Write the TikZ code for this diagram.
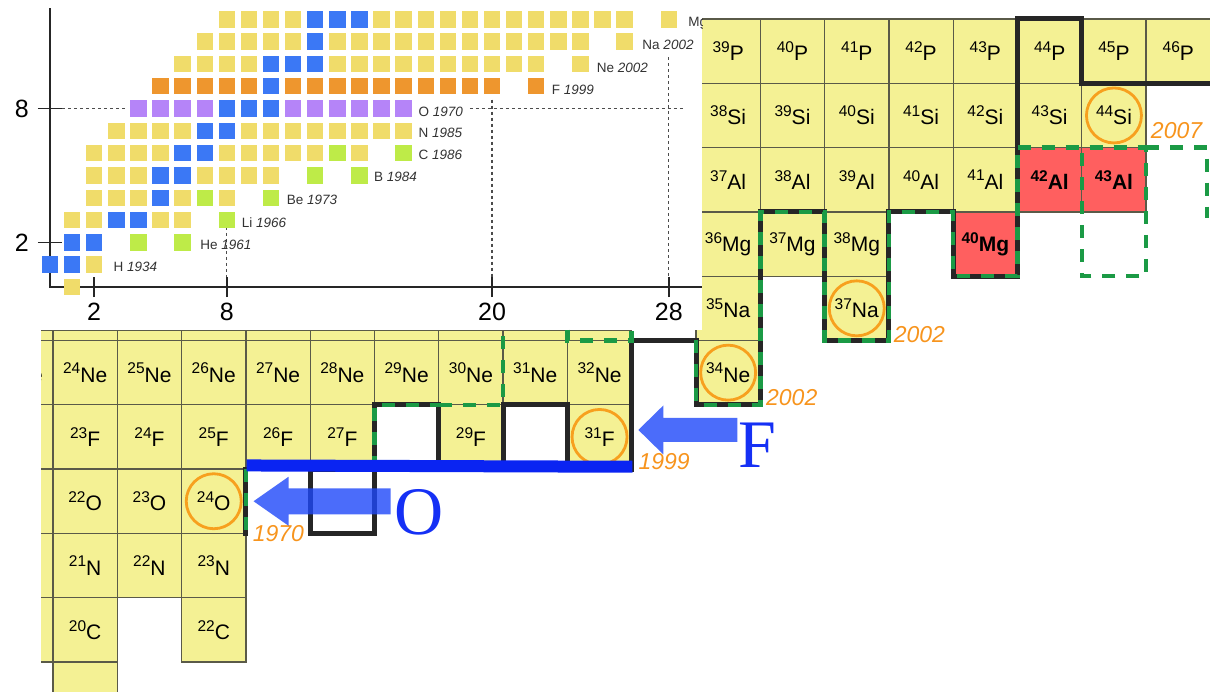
\documentclass[tikz,border=0pt]{standalone}
\usepackage{fontspec}
\setmainfont{Liberation Sans}
\newfontfamily\letterfont{Liberation Serif}
\usetikzlibrary{positioning}

\definecolor{cellyel}{HTML}{F4F194}
\definecolor{cellred}{HTML}{FF5F5F}
\definecolor{gridc}{HTML}{5A5A48}
\definecolor{dripgreen}{HTML}{1B9A45}
\definecolor{ringor}{HTML}{F7A01E}
\definecolor{yearor}{HTML}{F7941D}
\definecolor{sqyel}{HTML}{F0DC6A}
\definecolor{sqblu}{HTML}{3B78F5}
\definecolor{sqora}{HTML}{EE962E}
\definecolor{sqpur}{HTML}{B584F8}
\definecolor{sqgrn}{HTML}{BEEB48}
\definecolor{arrblu}{HTML}{1E47F9}
\definecolor{lineblu}{HTML}{0A24F2}
\definecolor{letblu}{HTML}{1530F5}

\newcommand{\iso}[2]{\raisebox{8.3pt}{\fontsize{15.5}{15.5}\selectfont #1}#2}

\begin{document}
\begin{tikzpicture}[x=1pt, y=-1pt]
	\tikzset{
		nucgrid/.style = {shift={(-847.2,1047.8)}, x=64.3pt, y=64.3pt},
		smallgrid/.style = {shift={(50,287)}, x=22.1pt, y=22.3pt},
		cell/.style = {rectangle, draw=gridc, line width=1.3pt, fill=cellyel, minimum size=64.3pt, inner sep=0pt, font=\fontsize{21}{21}\selectfont},
		redcell/.style = {cell, fill=cellred, font=\fontsize{21}{21}\selectfont\bfseries},
		ring/.style = {circle, draw=ringor, line width=2.8pt, minimum size=55pt, inner sep=0pt},
		year/.style = {anchor=west, text=yearor, inner sep=0pt, font=\fontsize{23}{23}\selectfont\itshape},
		drip/.style = {draw=black!85, solid, line width=5pt, line cap=rect},
		theo/.style = {draw=dripgreen, line width=4.5pt, dash pattern=on 13pt off 11pt},
		both/.style = {theo, preaction={drip}},
		sq/.style = {rectangle, minimum size=16.4pt, inner sep=0pt},
		tag/.style = {anchor=west, inner sep=0pt, text=black!80, font=\fontsize{13.5}{13.5}\selectfont},
		axis/.style = {black!85, line width=1.6pt},
		guide/.style = {black!70, line width=1.1pt, dash pattern=on 3pt off 3pt},
		ticklab/.style = {inner sep=0pt, font=\fontsize{25}{25}\selectfont},
		bigletter/.style = {inner sep=0pt, text=letblu, font=\letterfont\fontsize{68}{68}\selectfont}
	}
	\useasboundingbox (0,0) rectangle (1210,692);
	\clip (0,0) rectangle (1210,692);

	\begin{scope}[nucgrid]
		\foreach \z/\elem/\nlist in {15/P/{24,...,31}, 14/Si/{24,...,30}, 13/Al/{24,...,28}, 12/Mg/{24,25,26}, 11/Na/{24,26}, 10/Ne/{13,...,22,24}, 9/F/{13,...,18,20,22}, 8/O/{13,...,16}, 7/N/{13,...,16}, 6/C/{13,14,16}}
			\foreach \n in \nlist {
				\pgfmathtruncatemacro{\a}{\n+\z}
				\node[cell] (\elem\a) at (\n+.5,\z+.5) {\iso{\a}{\elem}};
			}
		\foreach \n in {13,...,22}
			\node[cell] (Na-\n) at (\n+.5,11.5) {};
		\node[redcell] (Al42) at (29.5,13.5) {\iso{42}{Al}};
		\node[redcell] (Al43) at (30.5,13.5) {\iso{43}{Al}};
		\node[redcell] (Mg40) at (28.5,12.5) {\iso{40}{Mg}};
		\node[cell] (B19) at (14.5,5.5) {};
	\end{scope}

	\fill[white] (0,330) rectangle (41,692);
	\draw[gridc, line width=1pt] (41,330.5) -- (631,330.5);

	\begin{scope}
		\clip (0,0) rectangle (702,330);
		\fill[white] (0,0) rectangle (702,330);
		\begin{scope}[smallgrid]
			\draw[guide] (.55,8) -- (3.5,8);
			\draw[guide] (19,8) -- (28.65,8);
			\draw[guide] (8,2.7) -- (8,0);
			\draw[guide] (20,8.4) -- (20,0);
			\draw[guide] (28,10.3) -- (28,0);
			\draw[axis] (0,12.5) -- (0,0) -- (29.5,0);
			\foreach \n in {2,8,20,28} {
				\draw[axis] (\n,-.45) -- (\n,.45);
				\node[ticklab, anchor=north] (xl\n) at (\n,-.72) {\n};
			}
			\foreach \z in {2,8} {
				\draw[axis] (-.55,\z) -- (.55,\z);
				\node[ticklab, anchor=east] (yl\z) at (-.95,\z) {\z};
			}
			\foreach \z/\c/\nlist in {0/sqyel/{1}, 1/sqblu/{0,1}, 1/sqyel/{2}, 2/sqblu/{1,2}, 2/sqgrn/{4,6}, 3/sqyel/{1,2,5,6}, 3/sqblu/{3,4}, 3/sqgrn/{8}, 4/sqyel/{2,3,4,6,8}, 4/sqblu/{5}, 4/sqgrn/{7,10}, 5/sqyel/{2,3,4,7,8,9,10}, 5/sqblu/{5,6}, 5/sqgrn/{12,14}, 6/sqyel/{2,3,4,5,8,9,10,11,12,14}, 6/sqblu/{6,7}, 6/sqgrn/{13,16}, 7/sqyel/{3,4,5,6}, 7/sqyel/{9,...,16}, 7/sqblu/{7,8}, 8/sqpur/{4,5,6,7}, 8/sqpur/{11,...,16}, 8/sqblu/{8,9,10}, 9/sqora/{5,...,9}, 9/sqora/{11,...,20,22}, 9/sqblu/{10}, 10/sqyel/{6,7,8,9}, 10/sqyel/{13,...,22,24}, 10/sqblu/{10,11,12}, 11/sqyel/{7,...,11}, 11/sqyel/{13,...,24,26}, 11/sqblu/{12}, 12/sqyel/{8,...,11}, 12/sqyel/{15,...,26,28}, 12/sqblu/{12,13,14}}
				\foreach \n in \nlist
					\node[sq, fill=\c] (s\z-\n) at (\n,\z) {};
			\node[tag] (tH) at (2.87,.91) {H \textit{1934}};
			\node[tag] (tHe) at (6.79,1.91) {He \textit{1961}};
			\node[tag] (tLi) at (8.67,2.88) {Li \textit{1966}};
			\node[tag] (tBe) at (10.71,3.93) {Be \textit{1973}};
			\node[tag] (tB) at (14.66,4.95) {B \textit{1984}};
			\node[tag] (tC) at (16.67,5.92) {C \textit{1986}};
			\node[tag] (tN) at (16.67,6.89) {N \textit{1985}};
			\node[tag] (tO) at (16.67,7.86) {O \textit{1970}};
			\node[tag] (tF) at (22.7,8.86) {F \textit{1999}};
			\node[tag] (tNe) at (24.74,9.83) {Ne \textit{2002}};
			\node[tag] (tNa) at (26.8,10.88) {Na \textit{2002}};
			\node[tag] (tMg) at (28.88,11.82) {Mg \textit{2002}};
		\end{scope}
	\end{scope}

	\begin{scope}[nucgrid]
		\draw[drip] (23,9) -- (23,11) -- (24,11);
		\draw[drip] (20,10) -- (20,9);
		\draw[drip] (21,9) -- (21,10) -- (22,10) -- (22,9);
		\draw[drip] (18,8) rectangle (19,9);
		\draw[drip] (29,14) -- (29,16) -- (30,16) -- (30,15) -- (32.2,15);
		\draw[both] (17,9) -- (17,8);
		\draw[both] (19,9) -- (19,10) -- (20,10);
		\draw[both] (24,11) -- (24,10) -- (25,10) -- (25,13) -- (26,13) -- (26,11) -- (27,11) -- (27,13) -- (28,13) -- (28,12) -- (29,12) -- (29,14);
		\draw[theo] (20,10) -- (21,10) -- (21,11.17);
		\draw[theo] (22,11.17) -- (22,11) -- (23,11) -- (23,11.17);
		\draw[theo] (29,14) -- (31,14) -- (31,12) -- (30,12) -- (30,14);
		\draw[theo] (31,14) -- (31.95,14) -- (31.95,12.9);
		\node[ring] (cSi44) at (Si44) {};
		\node[ring] (cNa37) at (Na37) {};
		\node[ring] (cNe34) at (Ne34) {};
		\node[ring] (cF31) at (F31) {};
		\node[ring] (cO24) at (O24) {};
		\node[year] (ySi44) at ([xshift=4pt, yshift=-15pt]Si44.east) {2007};
		\node[year] (yNa37) at ([xshift=4pt, yshift=7pt]Na37.south east) {2002};
		\node[year] (yNe34) at ([xshift=5pt, yshift=8pt]Ne34.south east) {2002};
		\node[year] (yF31) at ([xshift=6pt, yshift=8pt]F31.south east) {1999};
		\node[year] (yO24) at ([xshift=6pt, yshift=0pt]O24.south east) {1970};
	\end{scope}

	\draw[lineblu, line width=12pt] ([yshift=3pt]O24.north east) -- ([yshift=3pt]F31.south east);
	\coordinate (otip) at ([xshift=7pt]O24.east);
	\coordinate (ftip) at ([xshift=6pt, yshift=7pt]F31.east);
	\fill[arrblu, opacity=.8] (otip) -- ++(35,-24.5) -- ++(0,11.5) -- ++(102,0) -- ++(0,26) -- ++(-102,0) -- ++(0,11.5) -- cycle;
	\fill[arrblu, opacity=.8] (ftip) -- ++(25,-24.5) -- ++(0,12.5) -- ++(74,0) -- ++(0,24) -- ++(-74,0) -- ++(0,12.5) -- cycle;
	\node[bigletter] (lO) at (419,512.5) {O};
	\node[bigletter] (lF) at (757,445) {F};
\end{tikzpicture}
\end{document}
